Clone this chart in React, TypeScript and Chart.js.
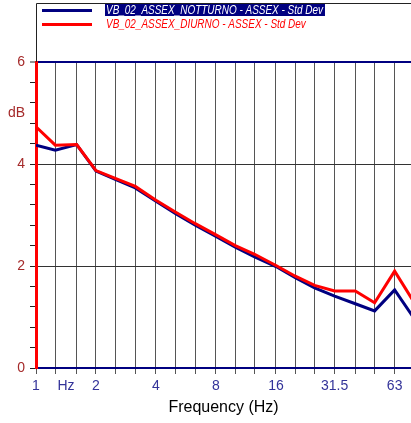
import React, { useEffect, useRef } from "react";
import { Chart, registerables } from "chart.js";

Chart.register(...registerables);

// 1/3-octave band centre frequencies (Hz)
const frequencies = [1, 1.25, 1.6, 2, 2.5, 3.15, 4, 5, 6.3, 8, 10, 12.5, 16, 20, 25, 31.5, 40, 50, 63, 80];

// Std Dev (dB)
const notturno = [4.37, 4.27, 4.38, 3.86, 3.70, 3.53, 3.27, 3.03, 2.80, 2.58, 2.37, 2.18, 1.99, 1.77, 1.57, 1.41, 1.26, 1.12, 1.53, 0.94];
const diurno = [4.73, 4.37, 4.38, 3.87, 3.72, 3.56, 3.29, 3.06, 2.83, 2.61, 2.40, 2.23, 2.01, 1.80, 1.62, 1.51, 1.51, 1.28, 1.90, 1.25];

const seriesNames = [
  "VB_02_ASSEX_NOTTURNO - ASSEX - Std Dev",
  "VB_02_ASSEX_DIURNO - ASSEX - Std Dev",
];

// x tick labels
const xLabelValues = [1, 1.4142, 2, 4, 8, 16, 31.5, 63];
const xLabelTexts = ["1", "Hz", "2", "4", "8", "16", "31.5", "63"];
const xGridValues = [1, 1.25, 1.6, 2, 2.5, 3.15, 4, 5, 6.3, 8, 10, 12.5, 16, 20, 25, 31.5, 40, 50, 63];

// y ticks
const yTickValues = [0, 0.4, 0.8, 1.2, 1.6, 2, 2.4, 2.8, 3.2, 3.6, 4, 4.4, 4.8, 5, 5.2, 5.6, 6];
const yLabelValues = [0, 2, 4, 5, 6];
const yLabelTexts = ["0", "2", "4", "dB", "6"];

const NAVY = "#000080";
const RED = "#ff0000";
const NARROW = "'Liberation Sans Narrow', 'Arial Narrow', 'Liberation Sans', Arial, sans-serif";

const legendPlugin = {
  id: "boxLegend",
  afterDraw(chart: any) {
    const ctx = chart.ctx;
    const area = chart.chartArea;
    ctx.save();
    ctx.strokeStyle = "#222";
    ctx.lineWidth = 1;
    ctx.beginPath();
    ctx.moveTo(area.left + 0.5, area.top);
    ctx.lineTo(area.left + 0.5, 3.5);
    ctx.lineTo(chart.width, 3.5);
    ctx.stroke();
    chart.data.datasets.forEach((ds: any, i: number) => {
      const y = 10.5 + i * 14;
      ctx.strokeStyle = ds.borderColor;
      ctx.lineWidth = 3;
      ctx.beginPath();
      ctx.moveTo(42, y);
      ctx.lineTo(92, y);
      ctx.stroke();
      ctx.font = "italic 12px 'Liberation Sans', Arial, sans-serif";
      ctx.textBaseline = "middle";
      ctx.textAlign = "left";
      const w = ctx.measureText(ds.label).width * 0.83;
      if (i === 0) {
        ctx.fillStyle = NAVY;
        ctx.fillRect(105, y - 6.5, w + 3, 12);
        ctx.fillStyle = "#ffffff";
      } else {
        ctx.fillStyle = ds.borderColor;
      }
      ctx.fillText(ds.label, 106, y, w);
    });
    ctx.restore();
  },
};

export default function App() {
  const ref = useRef<HTMLCanvasElement | null>(null);
  useEffect(() => {
    document.body.style.margin = "0";
    const canvas = ref.current!;
    const chart = new Chart(canvas, {
      type: "line",
      data: {
        datasets: [
          {
            label: seriesNames[0],
            data: frequencies.map((f, i) => ({ x: f, y: notturno[i] })),
            borderColor: NAVY,
            borderWidth: 3,
            pointRadius: 0,
            tension: 0,
            order: 1,
          },
          {
            label: seriesNames[1],
            data: frequencies.map((f, i) => ({ x: f, y: diurno[i] })),
            borderColor: RED,
            borderWidth: 3,
            pointRadius: 0,
            tension: 0,
            order: 0,
          },
        ],
      },
      options: {
        responsive: false,
        animation: false,
        layout: { padding: { top: 62, right: 0, left: 0, bottom: 0 } },
        plugins: { legend: { display: false }, tooltip: { enabled: false } },
        scales: {
          x: {
            type: "logarithmic",
            min: 1,
            max: 76.11,
            afterBuildTicks: (scale: any) => {
              const vals = [...xGridValues, xLabelValues[1]].sort((a, b) => a - b);
              scale.ticks = vals.map((v) => ({ value: v }));
            },
            afterFit: (scale: any) => {
              scale.height = 55;
            },
            ticks: {
              autoSkip: false,
              maxRotation: 0,
              minRotation: 0,
              padding: 4,
              color: "#333399",
              font: { family: NARROW, size: 14 },
              callback: (value: any) => {
                const idx = xLabelValues.findIndex((v) => Math.abs(v - Number(value)) < 1e-6);
                return idx >= 0 ? xLabelTexts[idx] : "";
              },
            },
            grid: {
              color: (c: any) => (c.tick && (Math.abs(c.tick.value - 1.4142) < 1e-6 || c.tick.value === 1) ? "rgba(0,0,0,0)" : "#555"),
              tickColor: (c: any) => (c.tick && Math.abs(c.tick.value - 1.4142) < 1e-6 ? "rgba(0,0,0,0)" : "#555"),
              lineWidth: 1,
              tickLength: 6,
              drawOnChartArea: true,
            },
            border: { color: NAVY, width: 2 },
            title: {
              display: true,
              text: "Frequency (Hz)",
              color: "#000",
              font: { family: "'Liberation Sans', Arial, sans-serif", size: 16 },
              padding: { top: 0, bottom: 6 },
            },
          },
          y: {
            type: "linear",
            min: 0,
            max: 6,
            afterBuildTicks: (scale: any) => {
              scale.ticks = yTickValues.map((v) => ({ value: v }));
            },
            afterFit: (scale: any) => {
              scale.width = 36;
            },
            ticks: {
              autoSkip: false,
              padding: 5,
              color: "#a52a2a",
              font: { family: NARROW, size: 14 },
              callback: (value: any) => {
                const idx = yLabelValues.findIndex((v) => Math.abs(v - Number(value)) < 1e-6);
                return idx >= 0 ? yLabelTexts[idx] : "";
              },
            },
            grid: {
              color: (c: any) => {
                const v = c.tick ? c.tick.value : -1;
                if (Math.abs(v - 6) < 1e-6) return NAVY;
                if (Math.abs(v - 2) < 1e-6 || Math.abs(v - 4) < 1e-6) return "#333";
                return "rgba(0,0,0,0)";
              },
              lineWidth: (c: any) => (c.tick && Math.abs(c.tick.value - 6) < 1e-6 ? 2 : 1),
              tickColor: (c: any) => (c.tick && Math.abs(c.tick.value - 5) < 1e-6 ? "rgba(0,0,0,0)" : "#222"),
              tickWidth: 1,
              tickLength: 6,
            },
            border: { color: RED, width: 3 },
          },
        },
      },
      plugins: [legendPlugin],
    } as any);
    return () => chart.destroy();
  }, []);
  return <canvas ref={ref} width={411} height={423} style={{ display: "block" }} />;
}
